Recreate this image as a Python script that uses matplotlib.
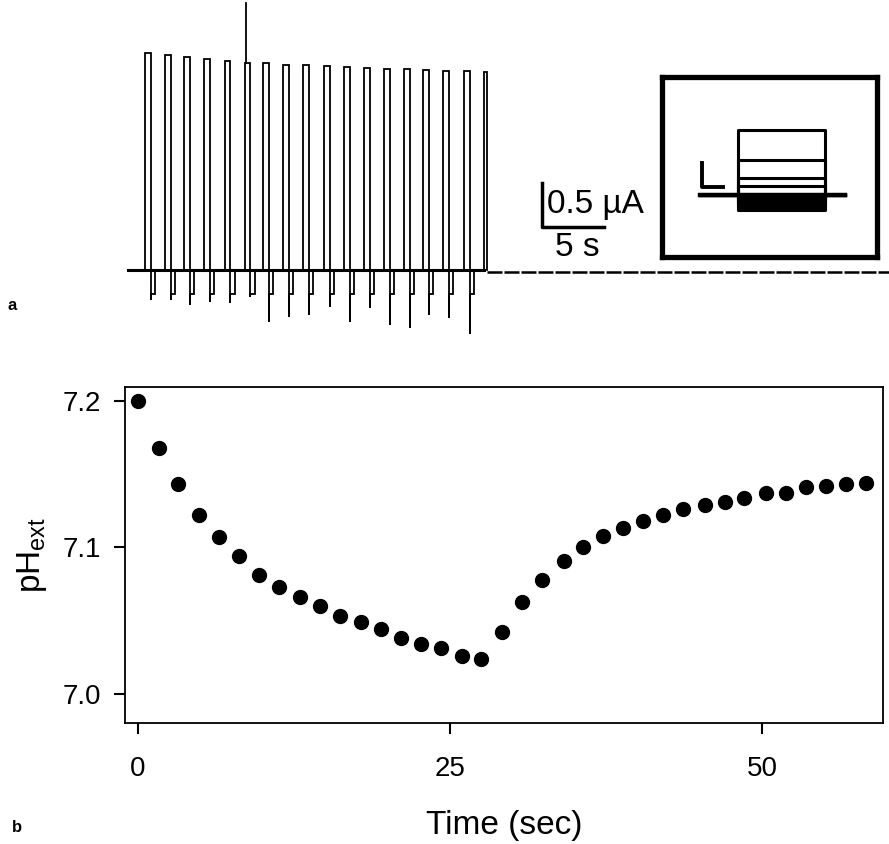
import numpy as np
import matplotlib.pyplot as plt

plt.rcParams['font.family'] = ['Liberation Sans', 'DejaVu Sans']
plt.rcParams['mathtext.fontset'] = 'custom'
plt.rcParams['mathtext.rm'] = 'Liberation Sans'

## panel a: voltage-clamp current trace (s, uA)
pulse_start = [1.37, 2.98, 4.54, 6.13, 7.80, 9.41, 10.91, 12.52, 14.14,
               15.81, 17.42, 19.06, 20.65, 22.26, 23.81, 25.43, 27.10, 28.73]
pulse_top = [2.47, 2.44, 2.42, 2.40, 2.38, 2.35, 2.35, 2.33, 2.33,
             2.32, 2.31, 2.30, 2.28, 2.28, 2.27, 2.26, 2.26, 2.25]
dip_spike = [-0.34, -0.34, -0.40, -0.36, -0.38, -0.31, -0.59, -0.53, -0.51,
             -0.42, -0.59, -0.43, -0.63, -0.66, -0.51, -0.55, -0.73]
dip_level = -0.27
artifact_t = 9.50
artifact_i = 3.03
trace_end = 61.4

## inset: current family (arbitrary units)
inset_levels = [2.71, 1.46, 0.71, 0.375, -0.12, -0.25, -0.38, -0.5, -0.62]
inset_on, inset_off = 3.62, 7.76
inset_start, inset_end = 1.81, 8.71

## panel b: external pH
time_s = [0.0, 1.65, 3.2, 4.86, 6.5, 8.12, 9.7, 11.3, 12.95, 14.6, 16.2, 17.9,
          19.5, 21.1, 22.7, 24.3, 26.0, 27.5, 29.2, 30.8, 32.4, 34.1, 35.7,
          37.3, 38.9, 40.5, 42.1, 43.7, 45.4, 47.0, 48.6, 50.3, 51.9, 53.5,
          55.1, 56.7, 58.3]
ph_ext = [7.200, 7.168, 7.143, 7.122, 7.107, 7.094, 7.081, 7.073, 7.066,
          7.060, 7.053, 7.049, 7.044, 7.038, 7.034, 7.031, 7.026, 7.024,
          7.042, 7.063, 7.078, 7.091, 7.100, 7.108, 7.113, 7.118, 7.122,
          7.126, 7.129, 7.131, 7.134, 7.137, 7.137, 7.141, 7.142, 7.143,
          7.144]

fig = plt.figure(figsize=(8.89, 8.44), dpi=100)

# ---- panel a
ax_a = fig.add_axes([0, 1 - 340 / 844, 1, 340 / 844])
ax_a.set_xlim(-10.32, 61.37)
ax_a.set_ylim(-0.795, 3.068)
ax_a.axis('off')

PW = 0.46   # pulse width
DW = 0.35   # dip width
t_tr = [0.0]
i_tr = [0.0]
for s, top, spk in zip(pulse_start[:-1], pulse_top[:-1], dip_spike):
    t_tr += [s, s, s + PW, s + PW, s + PW, s + PW + DW, s + PW + DW]
    i_tr += [0, top, top, spk, dip_level, dip_level, 0]
s = pulse_start[-1]
t_tr += [s, s, s + 0.2, s + 0.2]
i_tr += [0, pulse_top[-1], pulse_top[-1], 0]
ax_a.plot(t_tr, i_tr, color='black', lw=1.3, solid_joinstyle='miter')
ax_a.plot([0, s], [0, 0], color='black', lw=2.2)
ax_a.plot([s + 0.2, trace_end], [-0.02, -0.02], color='black', lw=1.8,
          linestyle=(0, (6, 0.8)))
ax_a.plot([artifact_t, artifact_t], [pulse_top[5], artifact_i], color='black', lw=1.3)

# scale bar 0.5 uA / 5 s
sb_t, sb_i = 33.36, 0.489
ax_a.plot([sb_t, sb_t, sb_t + 5], [sb_i + 0.5, sb_i, sb_i], color='black', lw=2.5)
ax_a.text(sb_t + 0.45, sb_i + 0.25, '0.5 \u00b5A', fontsize=24, va='center', ha='left')
ax_a.text(sb_t + 2.85, sb_i - 0.23, '5 s', fontsize=24, va='center', ha='center')

fig.text(8 / 889, 1 - 305 / 844, 'a', fontsize=12, fontweight='bold', va='center')

# ---- inset
ax_in = fig.add_axes([662 / 889, 1 - 257 / 844, 215 / 889, 180 / 844])
ax_in.set_xlim(0, 10.24)
ax_in.set_ylim(-2.58, 4.92)
ax_in.set_xticks([])
ax_in.set_yticks([])
for sp in ax_in.spines.values():
    sp.set_linewidth(3.8)
for lev in inset_levels:
    ax_in.plot([inset_start, inset_on, inset_on, inset_off, inset_off, inset_end],
               [0, 0, lev, lev, 0, 0], color='black', lw=2.2)
ax_in.plot([inset_start, inset_end], [0, 0], color='black', lw=3.2)
ax_in.plot([1.905, 1.905, 2.9], [1.33, 0.33, 0.33], color='black', lw=2.8)

# ---- panel b
ax_b = fig.add_axes([125 / 889, 1 - 723 / 844, 758 / 889, 336 / 844])
ax_b.plot(time_s, ph_ext, 'o', color='black', markersize=10)
ax_b.set_xlim(-1.04, 59.7)
ax_b.set_ylim(6.980, 7.2096)
ax_b.set_xticks([0, 25, 50])
ax_b.set_yticks([7.0, 7.1, 7.2])
ax_b.set_yticklabels(['7.0', '7.1', '7.2'])
ax_b.tick_params(axis='both', direction='out', length=8, width=1.5,
                 labelsize=20)
ax_b.tick_params(axis='x', pad=16)
ax_b.tick_params(axis='y', pad=9)
for sp in ax_b.spines.values():
    sp.set_linewidth(1.3)
ax_b.set_xlabel('Time (sec)', fontsize=24, labelpad=20)
ax_b.set_ylabel(r'pH$_{\rm ext}$', fontsize=24, labelpad=10)

fig.text(12 / 889, 1 - 828 / 844, 'b', fontsize=12, fontweight='bold', va='center')

plt.savefig('out.png', dpi=100)
